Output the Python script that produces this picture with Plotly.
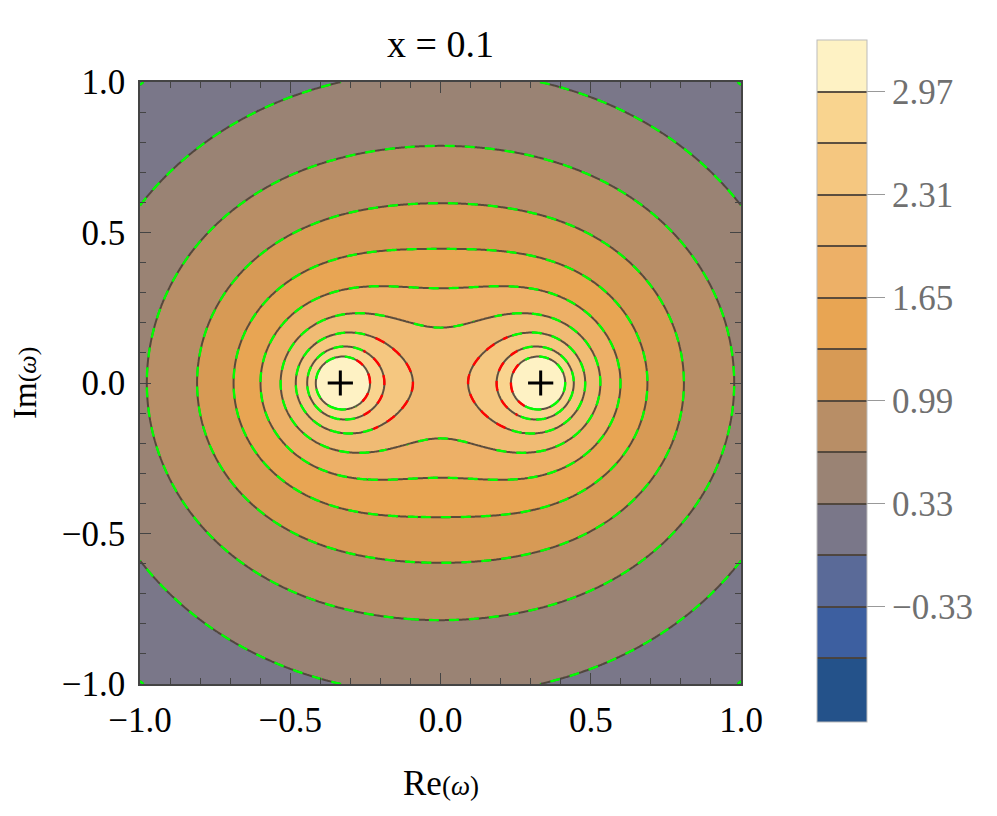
import numpy as np
import plotly.graph_objects as go

title = "x = 0.1"

# pole positions (black crosses)
pole_re = [-1 / 3, 1 / 3]
pole_im = [0.0, 0.0]

# contour levels and band colours (lowest band first)
level_start, level_end, level_step = -0.66, 2.97, 0.33
band_colors = ["#24528a", "#3d5fa0", "#5a6a98", "#7a7789", "#9a8374", "#b88e66",
               "#d79a55", "#e8a553", "#edb067", "#f0bb74", "#f5c780", "#f9d48f", "#fef2c4"]
cbar_tickvals = [-0.33, 0.33, 0.99, 1.65, 2.31, 2.97]
cbar_ticktext = ["\u22120.33", "0.33", "0.99", "1.65", "2.31", "2.97"]
cbar_range = [-1.07, 3.30]

# contour crossings (first quadrant, picture is symmetric)
cross_re = [0.303, 0.567, 0.664, 0.811, 0.886, 0.997,
            0.0, 0.331, 0.575, 0.775, 0.908, 0.98,
            0.0, 0.364, 0.575, 0.708, 0.817,
            0.0, 0.331, 0.531, 0.653, 0.697,
            0.0, 0.220, 0.333, 0.442, 0.564, 0.606,
            0.0, 0.265, 0.333, 0.536,
            0.095, 0.333, 0.483,
            0.189, 0.333, 0.444,
            0.237, 0.333, 0.414]
cross_im = [1.0, 0.919, 0.873, 0.774, 0.712, 0.590,
            0.795, 0.756, 0.657, 0.502, 0.336, 0.0,
            0.607, 0.546, 0.435, 0.280, 0.0,
            0.452, 0.413, 0.313, 0.158, 0.0,
            0.322, 0.330, 0.289, 0.247, 0.114, 0.0,
            0.186, 0.236, 0.229, 0.0,
            0.0, 0.168, 0.0,
            0.0, 0.123, 0.0,
            0.0, 0.090, 0.0]
cross_level = [0.33] * 6 + [0.66] * 6 + [0.99] * 5 + [1.32] * 5 + [1.65] * 6 + \
              [1.98] * 4 + [2.31] * 3 + [2.64] * 3 + [2.97] * 3


def basis(x, y):
    x, y = np.abs(x), np.abs(y)
    a = pole_re[1]
    L = -0.5 * np.log(((x - a) ** 2 + y ** 2) * ((x + a) ** 2 + y ** 2))
    r = np.hypot(x, y)
    return np.stack([np.ones_like(x), L, r, x ** 2, y ** 2, r ** 3], axis=-1)


coef = np.linalg.lstsq(basis(np.array(cross_re), np.array(cross_im)),
                       np.array(cross_level), rcond=None)[0]

grid = np.linspace(-1, 1, 401)
X, Y = np.meshgrid(grid, grid)
Z = basis(X, Y) @ coef

# arcs facing the other pole are drawn red instead of green
red = np.zeros_like(Z, dtype=bool)
for p in pole_re:
    dx = -np.sign(p) * (X - p)
    ang = np.degrees(np.arctan2(np.abs(Y), dx))
    red |= (np.hypot(X - p, Y) < 0.3) & (dx > 0) & (ang < 55)
Z_green = np.where(red, np.nan, Z)
Z_red = np.where(red, Z, np.nan)
sub = (np.abs(grid) <= 0.3)
subx = (np.abs(grid) <= 0.45)

n = len(band_colors)
colorscale = [[i / (n - 1), c] for i, c in enumerate(band_colors)]
contours = dict(start=level_start, end=level_end, size=level_step)

# the page puts the figure 8px in from the top-left corner
W, H, off = 997 - 8, 816 - 8, 8
left, top, right, bottom = 140 - off, 82 - off, 256, 132
pw, ph = W - left - right, H - top - bottom


def px_x(v):
    return (v - off - left) / pw


def px_y(v):
    return (H - bottom - (v - off)) / ph


fig = go.Figure()
fig.add_trace(go.Contour(
    x=grid, y=grid, z=Z, contours=dict(**contours, coloring="fill"),
    colorscale=colorscale, zmin=cbar_range[0], zmax=cbar_range[1],
    line=dict(color="rgba(75,65,55,0.9)", width=2), hoverinfo="skip",
    colorbar=dict(thickness=50, len=682, lenmode="pixels", x=px_x(817), xanchor="left",
                  y=px_y(381), yanchor="middle", xpad=0, ypad=0,
                  tickvals=cbar_tickvals, ticktext=cbar_ticktext, ticks="outside", ticklen=18,
                  tickcolor="#999", outlinecolor="#bbb", outlinewidth=1,
                  tickfont=dict(family="Liberation Serif", size=35, color="#707070"))))
fig.add_trace(go.Contour(
    x=grid, y=grid, z=Z_green, contours=dict(**contours, coloring="none"), showscale=False,
    line=dict(color="#00ff00", width=2.4, dash="10px,10px"), hoverinfo="skip"))
fig.add_trace(go.Contour(
    x=grid[subx], y=grid[sub], z=Z_red[np.ix_(sub, subx)],
    contours=dict(start=2.31, end=2.97, size=level_step, coloring="none"), showscale=False,
    line=dict(color="#ff0000", width=2.4, dash="10px,10px"), hoverinfo="skip"))
fig.add_trace(go.Scatter(
    x=pole_re, y=pole_im, mode="markers", hoverinfo="skip", showlegend=False,
    marker=dict(symbol="cross-thin", size=18, line=dict(width=3, color="black"))))

axis_common = dict(range=[-1, 1], showgrid=False, zeroline=False, showline=True,
                   linecolor="#444", linewidth=1.5, mirror="ticks", ticks="inside",
                   ticklen=11, tickwidth=1.2, tickcolor="#444",
                   tickvals=[-1, -0.5, 0, 0.5, 1],
                   ticktext=["\u22121.0", "\u22120.5", "0.0", "0.5", "1.0"],
                   tickfont=dict(family="Liberation Serif", size=35, color="black"),
                   minor=dict(ticks="inside", dtick=0.1, ticklen=6, tickwidth=1, tickcolor="#444"))
fig.update_xaxes(**axis_common, ticklabelstandoff=4)
fig.update_yaxes(**axis_common, ticklabelstandoff=6)

fig.update_layout(
    width=W, height=H, margin=dict(l=left, r=right, t=top, b=bottom),
    paper_bgcolor="white", plot_bgcolor="white", showlegend=False,
    font=dict(family="Liberation Serif"),
    title=dict(text=title, x=0.5, xref="paper", y=1 - (44 - off) / H, yanchor="middle",
               font=dict(family="Liberation Serif", size=38, color="black")),
    annotations=[
        dict(text="Re<span style='font-size:27px'>(<i>\u03c9</i>)</span>", xref="paper", yref="paper",
             x=0.5, y=px_y(783), showarrow=False, yanchor="middle",
             font=dict(family="Liberation Serif", size=35, color="black")),
        dict(text="Im<span style='font-size:26px'>(<i>\u03c9</i>)</span>", xref="paper", yref="paper",
             x=px_x(25), y=px_y(383), showarrow=False, textangle=-90, xanchor="center",
             yanchor="middle", borderpad=0,
             font=dict(family="Liberation Serif", size=33, color="black")),
    ],
)

fig.write_html("out.html")
